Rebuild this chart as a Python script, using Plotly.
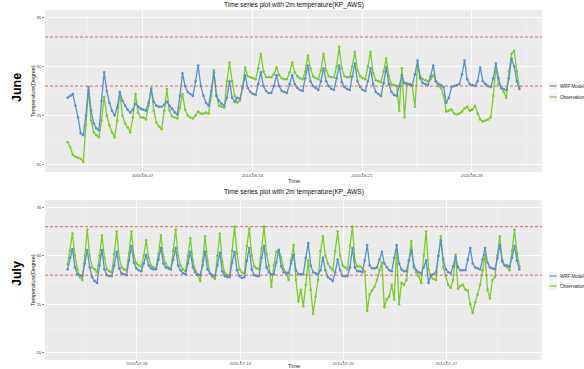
import pandas as pd
import plotly.graph_objects as go

# ---------------- data (4-hourly readings) ----------------
june_start = "2010-06-02 05:00"
july_start = "2010-07-01 07:00"
sample_step = "4h"

june_wrf = [
    26.8, 27.0, 27.2, 26.0, 24.8,
    23.2, 23.0, 25.0, 27.9, 25.5, 24.2,
    23.7, 23.5, 26.5, 29.4, 27.5, 26.3,
    25.5, 25.0, 25.8, 27.4, 26.5, 26.0,
    25.6, 25.3, 25.6, 26.2, 25.9, 25.7,
    25.6, 25.5, 26.3, 27.7, 26.4, 26.0,
    25.9, 25.9, 26.1, 26.4, 26.0, 25.7,
    25.3, 25.1, 27.0, 29.3, 28.0, 27.4,
    27.2, 27.0, 28.5, 30.1, 28.0, 27.0,
    26.3, 26.0, 27.5, 29.4, 27.0, 26.5,
    26.2, 26.0, 26.8, 28.5, 26.8, 26.4,
    26.8, 26.7, 27.8, 29.1, 27.8, 27.4,
    27.2, 27.1, 28.2, 29.4, 28.0, 27.5,
    27.3, 27.3, 28.0, 29.1, 28.0, 27.5,
    27.4, 27.3, 28.2, 29.1, 28.2, 27.8,
    27.6, 27.5, 28.8, 30.1, 28.5, 28.0,
    27.8, 27.6, 28.5, 29.8, 28.5, 28.0,
    27.7, 27.6, 28.8, 30.1, 28.4, 27.9,
    27.7, 27.6, 29.0, 30.3, 28.5, 27.9,
    27.6, 27.5, 28.5, 29.8, 28.2, 27.4,
    27.2, 27.0, 28.3, 29.9, 28.2, 27.4,
    27.1, 27.0, 28.0, 29.1, 28.3, 28.2,
    28.2, 28.1, 29.2, 30.6, 28.8, 28.3,
    28.2, 28.1, 29.0, 30.1, 28.5, 28.2,
    28.1, 27.9, 26.3, 26.8, 27.9, 28.0,
    28.1, 28.2, 29.2, 30.6, 28.7, 28.2,
    28.1, 28.0, 28.5, 29.9, 28.5, 28.2,
    28.0, 27.9, 28.8, 30.3, 28.8, 27.8,
    27.7, 27.6, 28.8, 30.8, 30.0, 28.5,
    27.7,
]
june_obs = [
    22.3, 21.8, 21.0, 20.8, 20.7,
    20.6, 20.3, 24.0, 27.6, 24.5, 23.3,
    23.0, 22.8, 24.5, 26.9, 25.0, 24.0,
    23.3, 22.8, 24.5, 27.4, 25.0, 24.2,
    23.8, 23.3, 24.8, 27.2, 25.3, 24.8,
    24.8, 24.6, 26.0, 27.8, 25.5, 24.3,
    23.9, 23.6, 25.5, 27.7, 25.5, 24.9,
    24.8, 24.7, 25.8, 27.2, 25.6, 25.0,
    24.8, 24.7, 25.0, 25.4, 25.2, 25.2,
    25.3, 25.2, 27.0, 29.6, 27.0, 26.0,
    25.9, 25.8, 28.5, 30.4, 28.5, 27.0,
    26.3, 26.5, 28.0, 29.9, 29.0, 28.9,
    28.8, 28.7, 29.8, 31.3, 29.5, 28.9,
    28.9, 28.9, 29.2, 29.9, 29.1, 28.8,
    28.7, 28.7, 29.4, 30.4, 29.4, 29.0,
    28.8, 28.7, 29.5, 31.1, 29.8, 29.0,
    28.8, 28.7, 29.6, 31.3, 29.6, 29.0,
    28.9, 28.9, 30.0, 32.0, 29.8, 29.0,
    28.9, 28.9, 30.0, 31.5, 29.6, 29.0,
    28.8, 28.7, 30.0, 31.5, 29.3, 28.6,
    28.5, 28.4, 29.5, 30.8, 29.0, 28.2,
    28.1, 28.0, 25.5, 29.8, 24.8, 28.3,
    28.1, 28.0, 25.9, 30.1, 29.0, 28.7,
    28.6, 28.5, 28.7, 29.1, 28.5, 28.0,
    27.8, 27.0, 25.4, 25.5, 25.6, 25.2,
    25.1, 25.2, 25.4, 25.7, 25.9, 25.5,
    25.6, 26.0, 25.2, 24.6, 24.4, 24.5,
    24.6, 24.8, 27.0, 29.9, 28.2, 27.8,
    27.4, 26.8, 29.5, 31.3, 31.6, 29.5,
    27.9,
]
july_wrf = [
    28.6, 29.8, 30.7, 28.8, 28.1,
    28.0, 27.9, 29.2, 30.6, 28.8, 27.8,
    27.4, 27.2, 29.0, 30.6, 28.6, 28.0,
    27.9, 27.9, 29.0, 30.4, 28.7, 28.2,
    28.1, 28.0, 29.5, 31.0, 29.3, 28.7,
    28.5, 28.4, 29.2, 30.1, 29.0, 28.7,
    28.6, 28.6, 29.6, 30.8, 29.2, 28.8,
    28.7, 28.6, 29.6, 30.8, 29.0, 28.5,
    28.2, 28.1, 29.2, 30.4, 28.8, 28.3,
    28.1, 28.0, 29.0, 30.4, 28.6, 28.2,
    28.0, 27.9, 29.0, 30.3, 28.4, 27.9,
    27.8, 27.8, 29.3, 30.4, 28.5, 27.9,
    27.7, 27.8, 29.5, 30.8, 28.6, 28.0,
    27.9, 27.9, 29.8, 31.0, 28.8, 28.3,
    28.1, 28.1, 29.3, 30.6, 28.9, 28.3,
    28.2, 28.2, 29.2, 30.1, 28.5, 28.1,
    28.1, 28.1, 29.8, 31.3, 29.0, 28.3,
    28.2, 28.1, 28.5, 29.8, 28.5, 27.8,
    27.6, 27.4, 28.3, 29.6, 28.5, 27.9,
    27.9, 27.9, 28.8, 30.8, 28.8, 28.4,
    28.4, 28.3, 29.5, 31.1, 29.0, 28.7,
    28.7, 28.8, 29.6, 30.4, 29.2, 28.8,
    28.5, 28.4, 29.8, 31.1, 29.2, 28.6,
    28.4, 28.4, 29.5, 30.6, 29.0, 28.5,
    28.3, 28.2, 28.8, 29.5, 27.2, 28.0,
    28.1, 28.3, 30.0, 31.6, 29.6, 28.6,
    28.3, 28.2, 28.9, 29.9, 28.8, 28.5,
    28.5, 28.5, 29.6, 30.8, 29.2, 28.8,
    28.7, 28.6, 29.6, 30.8, 29.3, 28.8,
    28.7, 28.6, 29.7, 31.1, 29.5, 29.0,
    29.0, 28.9, 29.8, 31.0, 29.5, 28.6,
]
july_obs = [
    29.1, 30.5, 32.3, 30.0, 28.6,
    27.8, 27.5, 30.0, 32.7, 30.0, 28.8,
    28.6, 28.3, 30.0, 32.1, 29.8, 28.6,
    28.4, 28.3, 30.2, 32.5, 29.8, 28.8,
    28.6, 28.5, 30.3, 32.5, 30.0, 29.2,
    29.0, 28.9, 30.0, 31.6, 29.8, 29.0,
    28.8, 28.7, 30.2, 32.1, 29.9, 29.2,
    28.8, 28.6, 30.5, 32.7, 30.0, 29.0,
    28.6, 28.4, 30.0, 31.8, 29.5, 28.5,
    28.0, 27.4, 29.5, 32.0, 29.5, 28.2,
    27.8, 27.6, 30.0, 32.3, 29.4, 28.2,
    28.0, 28.0, 30.5, 33.0, 30.2, 28.6,
    28.3, 28.2, 31.0, 32.8, 30.0, 28.9,
    28.7, 28.6, 30.8, 33.0, 30.2, 29.0,
    26.8, 29.0, 30.4, 30.6, 29.8, 28.6,
    28.3, 27.5, 29.5, 31.1, 27.5, 25.3,
    26.5, 24.8, 27.0, 29.5, 26.5, 24.0,
    25.8, 27.5, 30.5, 32.0, 30.0, 29.2,
    28.8, 28.5, 30.5, 32.5, 30.0, 29.0,
    28.8, 28.6, 31.0, 33.0, 29.5, 28.9,
    28.9, 28.7, 28.4, 24.3, 26.0, 26.4,
    26.8, 27.5, 28.5, 29.3, 24.7, 25.5,
    25.8, 27.0, 25.5, 30.6, 25.0, 27.2,
    27.0, 27.5, 29.5, 31.5, 28.8, 28.3,
    27.9, 27.2, 30.0, 32.5, 28.6, 27.8,
    27.6, 27.5, 30.0, 32.0, 28.8, 28.0,
    27.0, 26.7, 27.5, 30.1, 26.6, 26.9,
    27.0, 26.5, 26.4, 25.0, 24.1, 25.2,
    26.0, 27.0, 28.5, 30.1, 26.5, 25.6,
    27.5, 27.8, 30.0, 32.0, 29.4, 29.0,
    28.8, 28.5, 30.5, 32.7, 30.3, 28.9,
]

series_names = ["WRF Model", "Observation"]
june_ticks = ["2010-06-07", "2010-06-14", "2010-06-21", "2010-06-28"]
june_minor = ["2010-06-03 12:00", "2010-06-10 12:00", "2010-06-17 12:00",
              "2010-06-24 12:00", "2010-07-01 12:00"]
july_ticks = ["2010-07-06", "2010-07-13", "2010-07-20", "2010-07-27"]
july_minor = ["2010-07-02 12:00", "2010-07-09 12:00", "2010-07-16 12:00",
              "2010-07-23 12:00", "2010-07-30 12:00"]
y_ticks = [20, 25, 30, 35]
y_minor = [22.5, 27.5, 32.5]
y_limits = [20, 35]
ref_lines = [28, 33]
title_text = "Time series plot with 2m temperature(KP_AWS)"

# ---------------- styling ----------------
W, H = 584, 369
ML, MR, MT, MB = 45, 42, 10, 9
PW, PH = W - ML - MR, H - MT - MB
BLUE = "#5a8fcf"
GREEN = "#7ccb2c"
RED = "#d25c5c"
FONT = "Liberation Sans, Arial, sans-serif"


def px_x(px):
    return (px - ML) / PW


def px_y(py):
    return (H - MB - py) / PH


june_time = pd.date_range(june_start, periods=len(june_wrf), freq=sample_step)
july_time = pd.date_range(july_start, periods=len(july_wrf), freq=sample_step)

fig = go.Figure()


def add_pair(t, wrf, obs, xa, ya):
    fig.add_trace(go.Scatter(x=t, y=obs, mode="lines+markers", name=series_names[1],
                             line=dict(color=GREEN, width=1.3),
                             marker=dict(color=GREEN, size=2.6),
                             xaxis=xa, yaxis=ya, showlegend=False))
    fig.add_trace(go.Scatter(x=t, y=wrf, mode="lines+markers", name=series_names[0],
                             line=dict(color=BLUE, width=1.3),
                             marker=dict(color=BLUE, size=2.6),
                             xaxis=xa, yaxis=ya, showlegend=False))


add_pair(june_time, june_wrf, june_obs, "x", "y")
add_pair(july_time, july_wrf, july_obs, "x2", "y2")


def expand(lo, hi, frac=0.05):
    d = (hi - lo) * frac
    return lo - d, hi + d


jx = expand(june_time[0], june_time[-1])
lx = expand(july_time[0], july_time[-1])
yr = list(expand(*y_limits))

tickfont = dict(family=FONT, size=4.2, color="#4d4d4d")


def xaxis(ticks, minor, rng, anchor):
    return dict(type="date", anchor=anchor, domain=[0, 1], range=list(rng),
                tickmode="array", tickvals=ticks, ticktext=ticks,
                showgrid=True, gridcolor="white", gridwidth=0.9,
                minor=dict(tickmode="array", tickvals=minor, showgrid=True,
                           gridcolor="#f6f6f6", gridwidth=0.5),
                ticks="outside", ticklen=2, tickwidth=0.6, tickcolor="#444",
                ticklabelstandoff=-3,
                tickfont=tickfont, zeroline=False, showline=False,
                automargin=False, fixedrange=True)


def yaxis(domain, anchor):
    return dict(domain=domain, anchor=anchor, range=yr,
                tickmode="array", tickvals=y_ticks, ticktext=[str(v) for v in y_ticks],
                showgrid=True, gridcolor="white", gridwidth=0.9,
                minor=dict(tickmode="array", tickvals=y_minor, showgrid=True,
                           gridcolor="#f6f6f6", gridwidth=0.5),
                ticks="outside", ticklen=2, tickwidth=0.6, tickcolor="#444",
                tickfont=tickfont, zeroline=False, showline=False,
                automargin=False, fixedrange=True)


fig.update_layout(
    width=W, height=H, template="none",
    margin=dict(l=ML, r=MR, t=MT, b=MB, pad=0),
    paper_bgcolor="white", plot_bgcolor="#ebebeb",
    showlegend=False,
    font=dict(family=FONT),
    xaxis=xaxis(june_ticks, june_minor, jx, "y"),
    yaxis=yaxis([px_y(172), 1.0], "x"),
    xaxis2=xaxis(july_ticks, july_minor, lx, "y2"),
    yaxis2=yaxis([0.0, px_y(200)], "x2"),
)

shapes = []
for ya in ["y", "y2"]:
    xa = "x" if ya == "y" else "x2"
    for v in ref_lines:
        shapes.append(dict(type="line", xref=f"{xa} domain", x0=0, x1=1,
                           yref=ya, y0=v, y1=v,
                           line=dict(color=RED, width=0.9, dash="3px,2px")))

# legend keys (decoration)
legend_rows = [(86, 97), (276, 286)]
for (yw, yo) in legend_rows:
    for py, col in [(yw, BLUE), (yo, GREEN)]:
        shapes.append(dict(type="rect", xref="paper", yref="paper",
                           x0=px_x(549), x1=px_x(557), y0=px_y(py + 4.5), y1=px_y(py - 4.5),
                           fillcolor="#f2f2f2", line=dict(width=0)))
        shapes.append(dict(type="line", xref="paper", yref="paper",
                           x0=px_x(549.5), x1=px_x(556.5), y0=px_y(py), y1=px_y(py),
                           line=dict(color=col, width=1.2)))
fig.update_layout(shapes=shapes)

ann = []
for py in (5, 192):
    ann.append(dict(text=title_text, x=0.5, y=px_y(py), xref="paper", yref="paper",
                    showarrow=False, xanchor="center", yanchor="middle",
                    font=dict(family=FONT, size=6.6, color="#111")))
for py in (181, 365.5):
    ann.append(dict(text="Time", x=0.5, y=px_y(py), xref="paper", yref="paper",
                    showarrow=False, xanchor="center", yanchor="middle",
                    font=dict(family=FONT, size=5.6, color="#222")))
for py in (91, 280):
    ann.append(dict(text="Temperature(Degree)", x=px_x(33), y=px_y(py), xref="paper",
                    yref="paper", showarrow=False, textangle=-90,
                    xanchor="center", yanchor="middle",
                    font=dict(family=FONT, size=5.4, color="#222")))
for txt, py in (("June", 88), ("July", 274)):
    ann.append(dict(text=f"<b>{txt}</b>", x=px_x(17), y=px_y(py), xref="paper",
                    yref="paper", showarrow=False, textangle=-90,
                    xanchor="center", yanchor="middle",
                    font=dict(family=FONT, size=12.5, color="black")))
for (yw, yo) in legend_rows:
    for py, name in [(yw, series_names[0]), (yo, series_names[1])]:
        ann.append(dict(text=name, x=px_x(558), y=px_y(py), xref="paper", yref="paper",
                        showarrow=False, xanchor="left", yanchor="middle",
                        font=dict(family=FONT, size=4.5, color="#222")))
fig.update_layout(annotations=ann)

fig.write_html(
    "out.html",
    config={"displayModeBar": False, "staticPlot": True},
    post_script="document.body.style.margin='0';document.body.style.overflow='hidden';",
)
